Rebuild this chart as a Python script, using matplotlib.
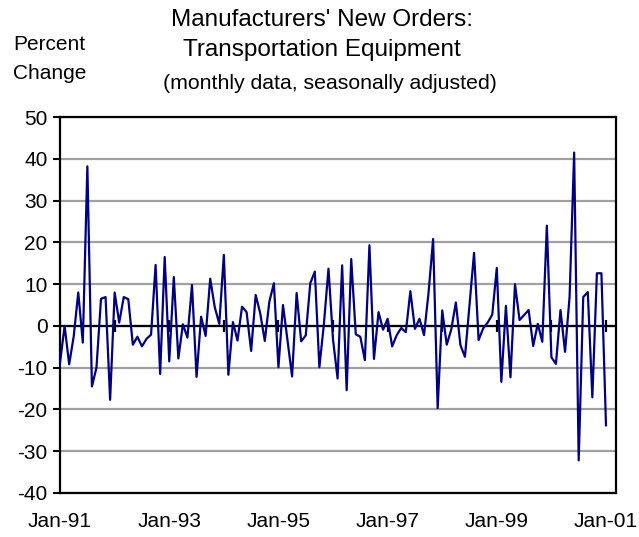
import numpy as np
import matplotlib
matplotlib.use('Agg')
import matplotlib.pyplot as plt

plt.rcParams['font.family'] = ['Liberation Sans', 'DejaVu Sans']

# monthly percent change, Jan-91 .. Jan-01 (121 months)
pct_change = [
    -8.7, 0.0, -9.2, -2.5, 8.0, -4.0, 38.2, -14.5, -10.0, 6.5, 6.9, -17.7,
    8.0, 0.8, 6.9, 6.4, -4.5, -2.6, -4.9, -3.1, -2.1, 14.6, -11.5, 16.5,
    -8.5, 11.7, -7.8, 0.4, -2.8, 9.8, -12.2, 2.2, -2.4, 11.3, 4.5, 0.5,
    17.0, -11.7, 0.9, -3.5, 4.6, 3.3, -6.0, 7.4, 3.0, -3.6, 5.8, 10.2,
    -9.9, 5.0, -3.5, -12.1, 7.9, -3.7, -2.3, 10.2, 13.0, -9.9, 0.5, 13.7,
    -3.3, -12.6, 14.5, -15.4, 16.0, -2.0, -2.6, -8.2, 19.3, -7.9, 3.3, -0.9,
    1.7, -4.9, -2.2, -0.5, -1.5, 8.3, -0.7, 1.7, -2.2, 8.0, 20.8, -19.7,
    3.7, -4.5, -0.8, 5.6, -4.6, -7.4, 5.0, 17.5, -3.4, -0.6, 0.8, 2.7,
    13.9, -13.4, 4.8, -12.3, 10.0, 1.4, 2.6, 3.8, -4.8, 0.5, -3.8, 24.0,
    -7.5, -9.1, 3.8, -6.2, 7.0, 41.5, -32.2, 6.9, 8.1, -17.1, 12.6, 12.6,
    -23.8,
]
months = np.arange(len(pct_change))
label_text = ['Jan-91', 'Jan-93', 'Jan-95', 'Jan-97', 'Jan-99', 'Jan-01']
label_pos = months[::24]
year_pos = months[::12]
y_ticks = list(range(-40, 51, 10))

fig = plt.figure(figsize=(6.39, 5.37), dpi=100)
ax = fig.add_axes([0.094, 0.082, 0.870, 0.700])

for y in y_ticks:
    ax.axhline(y, color='#a0a0a0', lw=1.6, zorder=1)
ax.axhline(0, color='black', lw=1.6, zorder=2)
ax.plot(year_pos, np.zeros(len(year_pos)), linestyle='none', marker='|',
        markersize=9, markeredgewidth=1.6, color='black', zorder=2)

ax.plot(months, pct_change, color='#000080', lw=1.6, zorder=3)

ax.set_xlim(0, 122.2)
ax.set_ylim(-40, 50)
ax.set_yticks(y_ticks)
ax.set_yticklabels([str(v) for v in y_ticks], fontsize=15)
ax.set_xticks(label_pos)
ax.set_xticklabels(label_text, fontsize=15)
ax.tick_params(axis='x', length=0, pad=14)
ax.tick_params(axis='y', direction='out', length=5, width=1.5, pad=4)
for s in ax.spines.values():
    s.set_linewidth(1.6)

fig.text(0.504, 0.963, "Manufacturers' New Orders:", ha='center', va='center', fontsize=17.5)
fig.text(0.504, 0.907, 'Transportation Equipment', ha='center', va='center', fontsize=17.5)
fig.text(0.516, 0.844, '(monthly data, seasonally adjusted)', ha='center', va='center', fontsize=15.3)
fig.text(0.077, 0.917, 'Percent', ha='center', va='center', fontsize=15)
fig.text(0.077, 0.864, 'Change', ha='center', va='center', fontsize=15)

fig.savefig('out.png', dpi=100)
